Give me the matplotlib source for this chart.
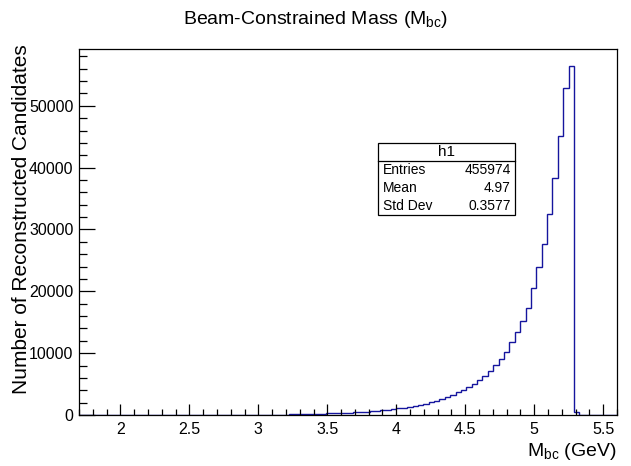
import matplotlib
matplotlib.use("Agg")
import matplotlib.pyplot as plt
import numpy as np
from matplotlib.ticker import MultipleLocator

plt.rcParams["font.family"] = ["Liberation Sans", "DejaVu Sans"]
plt.rcParams["mathtext.fontset"] = "custom"
plt.rcParams["mathtext.rm"] = "Liberation Sans"
plt.rcParams["mathtext.it"] = "Liberation Sans:italic"

# histogram binning (100 bins, 1.7 - 5.6 GeV)
x_min, x_max, n_bins = 1.7, 5.6, 100

# bin contents, bin 0 .. 99
counts = [
    0, 0, 0, 0, 0, 0, 0, 0, 0, 0,
    0, 0, 0, 0, 0, 0, 0, 1, 1, 1,
    2, 2, 3, 4, 5, 6, 8, 10, 12, 15,
    19, 23, 28, 34, 41, 49, 58, 68, 80, 93,
    108, 125, 145, 165, 190, 215, 245, 280, 315, 355,
    400, 450, 500, 560, 630, 700, 780, 860, 960, 1070,
    1190, 1320, 1470, 1640, 1840, 2050, 2310, 2590, 2960, 3290,
    3720, 4050, 4580, 5070, 5610, 6260, 7170, 8090, 9110, 10240,
    11810, 13480, 15210, 17360, 20600, 23900, 27720, 32570, 38300, 45150,
    52860, 56360, 550, 0, 0, 0, 0, 0, 0, 0,
]

stat_names = ["Entries", "Mean", "Std Dev"]
stat_values = ["455974", "4.97", "0.3577"]

edges = np.linspace(x_min, x_max, n_bins + 1)

fig = plt.figure(figsize=(6.31, 4.66), dpi=100)
ax = fig.add_axes([79 / 631, 1 - 415 / 466, (617 - 79) / 631, (415 - 49) / 466])

ax.stairs(counts, edges, color="#15159e", linewidth=1.0)

ax.set_xlim(x_min, x_max)
ax.set_ylim(0, 1.05 * max(counts))

ax.xaxis.set_major_locator(MultipleLocator(0.5))
ax.xaxis.set_minor_locator(MultipleLocator(0.1))
ax.yaxis.set_major_locator(MultipleLocator(10000))
ax.yaxis.set_minor_locator(MultipleLocator(2000))
ax.xaxis.set_major_formatter(plt.FuncFormatter(lambda v, p: f"{v:g}"))

ax.tick_params(axis="x", which="major", direction="in", length=8, width=0.9, labelsize=11.5, pad=5)
ax.tick_params(axis="x", which="minor", direction="in", length=4, width=0.9)
ax.tick_params(axis="y", which="major", direction="in", length=11.5, width=0.9, labelsize=11.5, pad=4)
ax.tick_params(axis="y", which="minor", direction="in", length=5.8, width=0.9)
for s in ax.spines.values():
    s.set_linewidth(0.9)

fig.text(0.5, 1 - 20 / 466, r"Beam-Constrained Mass (M$_{\mathrm{bc}}$)",
         ha="center", va="center", fontsize=14)
fig.text(617 / 631, 1 - 452 / 466, r"M$_{\mathrm{bc}}$ (GeV)",
         ha="right", va="center", fontsize=14)
fig.text(22 / 631, 1 - 44 / 466, "Number of Reconstructed Candidates",
         ha="center", va="top", rotation=90, fontsize=15)

# stats box
bx0, bx1, by0, by1 = 378, 515, 143, 215
box = plt.Rectangle((bx0 / 631, 1 - by1 / 466), (bx1 - bx0) / 631, (by1 - by0) / 466,
                    transform=fig.transFigure, facecolor="white", edgecolor="black",
                    linewidth=0.9, zorder=5)
fig.patches.append(box)
hdr = by0 + (by1 - by0) / 4
fig.add_artist(plt.Line2D([bx0 / 631, bx1 / 631], [1 - hdr / 466, 1 - hdr / 466],
                          transform=fig.transFigure, color="black", linewidth=0.9, zorder=6))
fig.text((bx0 + bx1) / 2 / 631, 1 - (by0 + hdr) / 2 / 466, "h1",
         ha="center", va="center", fontsize=11, zorder=7)
row_h = (by1 - hdr) / 3
for i, (n, v) in enumerate(zip(stat_names, stat_values)):
    yc = hdr + row_h * (i + 0.5)
    fig.text((bx0 + 5) / 631, 1 - yc / 466, n, ha="left", va="center", fontsize=10, zorder=7)
    fig.text((bx1 - 4) / 631, 1 - yc / 466, v, ha="right", va="center", fontsize=10, zorder=7)

fig.savefig("out.png", dpi=100)
